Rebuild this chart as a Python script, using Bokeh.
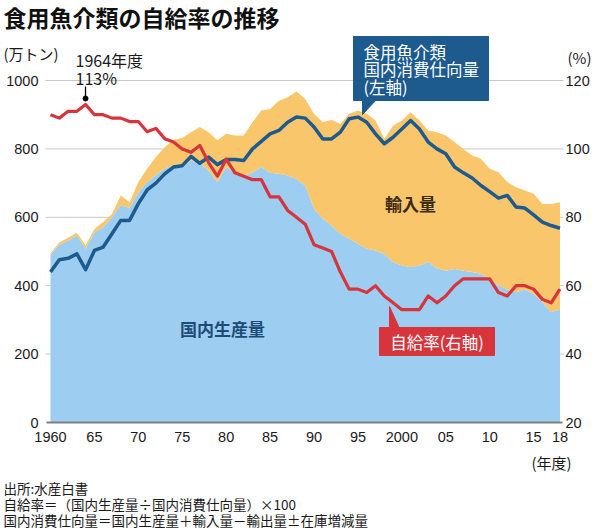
from bokeh.plotting import figure
from bokeh.models import ColumnDataSource, Range1d, LinearAxis, FixedTicker
from bokeh.core.properties import value
from bokeh.embed import file_html
from bokeh.resources import INLINE

# ---------------- data ----------------
years = list(range(1960, 2019))

# 国内消費仕向量 (万トン, left axis)
consumption = [440, 476, 480, 493, 447, 503, 513, 552, 591, 591,
               640, 680, 700, 727, 747, 751, 778, 758, 776, 754,
               769, 769, 766, 800, 822, 844, 854, 878, 893, 890,
               864, 829, 829, 849, 888, 893, 878, 844, 815, 834,
               858, 883, 858, 820, 800, 786, 747, 730, 715, 693,
               675, 656, 664, 630, 627, 607, 586, 576, 568]

# 国内生産量 (万トン)
production = [490, 520, 532, 547, 508, 556, 571, 600, 636, 627,
              673, 703, 724, 742, 754, 747, 766, 759, 737, 703,
              747, 730, 722, 730, 747, 730, 727, 722, 712, 693,
              625, 596, 576, 552, 537, 523, 508, 503, 493, 469,
              459, 454, 459, 469, 451, 444, 449, 444, 440, 435,
              420, 401, 389, 381, 389, 376, 352, 323, 330]

# 輸入量 (万トン)
imports = [5, 6, 8, 8, 10, 10, 15, 10, 28, 17,
           30, 39, 52, 63, 73, 85, 83, 105, 112, 122,
           97, 109, 117, 148, 165, 187, 214, 229, 256, 253,
           278, 282, 309, 321, 366, 389, 395, 380, 337, 399,
           424, 453, 424, 385, 398, 395, 371, 356, 341, 336,
           322, 331, 314, 307, 289, 293, 287, 316, 314]

# 自給率 (%, right axis)
rate = [110, 109, 111, 111, 113, 110, 110, 109, 109, 108,
        108, 105, 106, 103, 102, 100, 99, 101, 96, 92,
        97, 93, 92, 91, 91, 86, 86, 82, 80, 78,
        72, 71, 70, 64, 59, 59, 58, 60, 57, 55,
        53, 53, 53, 57, 55, 57, 60, 62, 62, 62,
        62, 58, 57, 60, 60, 59, 56, 55, 59]

x_ticks = [1960, 1965, 1970, 1975, 1980, 1985, 1990, 1995, 2000, 2005, 2010, 2015, 2018]
x_tick_labels = ["1960", "65", "70", "75", "80", "85", "90", "95", "2000", "05", "10", "15", "18"]
left_ticks = [0, 200, 400, 600, 800, 1000]
right_ticks = [20, 40, 60, 80, 100, 120]

title_text = "食用魚介類の自給率の推移"
notes = ["出所:水産白書",
         "自給率＝（国内生産量÷国内消費仕向量）×100",
         "国内消費仕向量＝国内生産量＋輸入量－輸出量±在庫増減量"]

# ---------------- styling ----------------
C_PROD = "#9dcdf0"
C_IMP = "#f9c66b"
C_BLUE = "#1d5a8e"
C_RED = "#d7343b"
CJK = "Noto Sans CJK JP"
NUM = "Liberation Sans"
W, H = 600, 530

# helpers: canvas-pixel positions -> data coords (for annotation placement)
PX_YEAR = 8.784   # px per year
PX_UNIT = 0.342   # px per 万トン


def X(px):
    return 1960 + (px - 50) / PX_YEAR


def Y(py):
    return (422 - py) / PX_UNIT


src = ColumnDataSource(dict(year=years, prod=production, imp=imports,
                            cons=consumption, rate=rate))

p = figure(width=W, height=H, output_backend="svg", toolbar_location=None,
           title=None,
           x_range=Range1d(X(0), X(W)), y_range=Range1d(Y(H), Y(0)),
           min_border=0, min_border_left=0, min_border_right=0,
           min_border_top=0, min_border_bottom=0)
p.extra_y_ranges = {"pct": Range1d(20 - (H - 422) / 3.42, 20 + 422 / 3.42)}
p.outline_line_color = None
p.background_fill_color = "white"
p.border_fill_color = "white"
p.xgrid.grid_line_color = None
p.ygrid.grid_line_color = None

# grid lines (only across the plotting area)
p.segment(x0=[X(45)] * 5, x1=[X(563)] * 5, y0=left_ticks[1:], y1=left_ticks[1:],
          line_color="#c8c8c8", line_width=1)

# stacked areas
p.varea_stack(stackers=["prod", "imp"], x="year", color=[C_PROD, C_IMP], source=src)

# baseline
p.segment(x0=[X(46)], x1=[X(562)], y0=[0], y1=[0], line_color="#808080", line_width=2)

# lines
p.line("year", "cons", source=src, line_color=C_BLUE, line_width=3.5, line_join="round")
p.line("year", "rate", source=src, y_range_name="pct", line_color=C_RED, line_width=3.2,
       line_join="round")

# axes (fixed in place so the frame can span the whole canvas)
p.xaxis.ticker = FixedTicker(ticks=x_ticks)
p.xaxis.major_label_overrides = {t: l for t, l in zip(x_ticks, x_tick_labels)}
p.xaxis.fixed_location = 0
p.yaxis.ticker = FixedTicker(ticks=left_ticks)
p.yaxis.fixed_location = X(45)
ra = LinearAxis(y_range_name="pct", ticker=FixedTicker(ticks=right_ticks),
                fixed_location=X(562))
p.add_layout(ra, "right")

for ax in [p.xaxis[0], p.yaxis[0], ra]:
    ax.axis_line_color = None
    ax.major_tick_line_color = None
    ax.minor_tick_line_color = None
    ax.major_tick_out = 0
    ax.major_tick_in = 0
    ax.minor_tick_out = 0
    ax.minor_tick_in = 0
    ax.major_label_text_font = NUM
    ax.major_label_text_font_size = "14.5px"
    ax.major_label_text_color = "#1a1a1a"
p.yaxis[0].major_label_standoff = 7
ra.major_label_standoff = 3
p.xaxis[0].major_label_standoff = 9


# ---------------- texts ----------------
def txt(x, y, text, size, color="#1a1a1a", font=CJK, style="normal", align="left"):
    p.text(x=[x], y=[y], text=[text], text_font=value(font), text_font_size=size,
           text_color=color, text_font_style=style, text_align=align,
           text_baseline="middle")


txt(X(3), Y(16), title_text, "23px", color="#111111", style="bold")
txt(X(3), Y(53), "(万トン)", "15px")
txt(X(567), Y(57), "(%)", "15px")
txt(X(531), Y(462), "(年度)", "15px")
for t, yy in zip(notes, [487, 503, 519]):
    txt(X(3), Y(yy), t, "13.5px")

# 1964 note
txt(X(75), Y(59), "1964年度", "16px")
txt(X(75), Y(77), "113%", "16px")
p.segment(x0=[X(85)], y0=[Y(86)], x1=[X(85)], y1=[Y(98)], line_color="black", line_width=1.3)
p.scatter(x=[X(85)], y=[Y(98)], size=5, color="black")

# area labels
txt(X(222), Y(328), "国内生産量", "17px", color="#1d4b78", style="bold", align="center")
txt(X(410), Y(203), "輸入量", "17px", color="#3b2c14", style="bold", align="center")

# blue callout
p.quad(left=[X(353)], right=[X(488)], top=[Y(36)], bottom=[Y(100)], color=C_BLUE)
p.patch(x=[X(362), X(376), X(362)], y=[Y(99), Y(99), Y(114)], color=C_BLUE)
for t, yy in zip(["食用魚介類", "国内消費仕向量", "(左軸)"], [51, 68, 86]):
    txt(X(363), Y(yy), t, "16.5px", color="white")

# red callout
p.quad(left=[X(379)], right=[X(494)], top=[Y(327)], bottom=[Y(355)], color=C_RED)
p.patch(x=[X(389), X(399), X(389)], y=[Y(328), Y(328), Y(306)], color=C_RED)
txt(X(436.5), Y(341), "自給率(右軸)", "16.5px", color="white", align="center")

open("out.html", "w").write(file_html(p, INLINE))
